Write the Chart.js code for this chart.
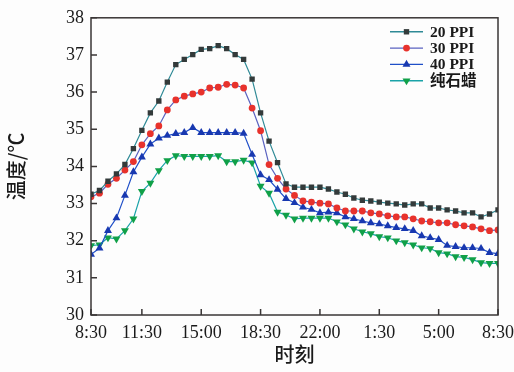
<!DOCTYPE html>
<html>
<head>
<meta charset="utf-8">
<script src="https://cdn.jsdelivr.net/npm/chart.js@4.4.0/dist/chart.umd.min.js"></script>
<style>
    html, body { margin: 0; padding: 0; background: #fdfdfd; }
    #grafico { display: block; }
</style>
</head>
<body>
<canvas id="grafico" width="514" height="372"></canvas>
<script>
// medições a cada meia hora, das 8:30 às 8:30 do dia seguinte
var seriesNames = ["20 PPI", "30 PPI", "40 PPI", "纯石蜡"];
var tickHours = [0, 3, 6.5, 10, 13.5, 17, 20.5, 24];
var tickLabels = ["8:30", "11:30", "15:00", "18:30", "22:00", "1:30", "5:00", "8:30"];
var stepHours = 0.5;

var ppi20 = [33.25, 33.35, 33.6, 33.8, 34.05, 34.48, 34.97, 35.44, 35.76, 36.27,
    36.74, 36.88, 37.01, 37.15, 37.17, 37.25, 37.17, 37.01, 36.88, 36.35,
    35.44, 34.68, 34.1, 33.53, 33.44, 33.44, 33.44, 33.44, 33.39, 33.31,
    33.25, 33.15, 33.09, 33.07, 33.04, 33.01, 32.99, 32.96, 32.99, 32.99,
    32.88, 32.88, 32.83, 32.8, 32.75, 32.75, 32.64, 32.72, 32.83];
var ppi30 = [33.18, 33.28, 33.52, 33.68, 33.9, 34.13, 34.58, 34.88, 35.09, 35.52,
    35.79, 35.89, 35.95, 36.0, 36.11, 36.13, 36.21, 36.19, 36.11, 35.57,
    34.96, 34.05, 33.68, 33.39, 33.22, 33.07, 33.04, 33.01, 32.99, 32.88,
    32.8, 32.8, 32.8, 32.75, 32.72, 32.67, 32.64, 32.64, 32.59, 32.53,
    32.51, 32.48, 32.48, 32.43, 32.4, 32.37, 32.32, 32.27, 32.29];
var ppi40 = [31.63, 31.8, 32.27, 32.61, 33.22, 33.85, 34.25, 34.6, 34.76, 34.83,
    34.88, 34.91, 35.04, 34.91, 34.91, 34.91, 34.91, 34.91, 34.89, 34.32,
    33.77, 33.64, 33.38, 33.13, 33.02, 32.9, 32.84, 32.75, 32.77, 32.75,
    32.64, 32.59, 32.53, 32.48, 32.45, 32.4, 32.35, 32.32, 32.27, 32.13,
    32.08, 32.03, 31.87, 31.84, 31.81, 31.81, 31.79, 31.68, 31.65];
var parafina = [31.87, 31.89, 32.08, 32.05, 32.27, 32.59, 33.33, 33.55, 33.89, 34.16,
    34.29, 34.27, 34.27, 34.27, 34.27, 34.29, 34.13, 34.13, 34.17, 34.1,
    33.47, 33.28, 32.77, 32.69, 32.59, 32.61, 32.61, 32.61, 32.61, 32.51,
    32.43, 32.32, 32.24, 32.19, 32.11, 32.08, 32.0, 31.95, 31.89, 31.81,
    31.79, 31.68, 31.65, 31.57, 31.55, 31.49, 31.41, 31.39, 31.39];

var corAxis = "#3a3636";
var fonteSerif = "'Liberation Serif', 'Noto Sans CJK SC', serif";

function toPoints(values) {
    return values.map(function (v, i) {
        return { x: i * stepHours, y: v };
    });
}

function serie(nome, valores, corLinha, corPonto, estilo, raio, rotacao) {
    return {
        label: nome,
        data: toPoints(valores),
        borderColor: corLinha,
        borderWidth: 1.2,
        backgroundColor: corPonto,
        pointBackgroundColor: corPonto,
        pointBorderColor: corPonto,
        pointBorderWidth: 0,
        pointStyle: estilo,
        pointRadius: raio,
        pointRotation: rotacao,
        tension: 0
    };
}

// desenha um marcador igual ao da série, usado na legenda
function desenharMarcador(ctx, estilo, x, y, r, rotacao) {
    ctx.save();
    ctx.translate(x, y);
    ctx.rotate((rotacao || 0) * Math.PI / 180);
    ctx.beginPath();
    if (estilo === "rect") {
        var s = r * Math.SQRT1_2 * 2;
        ctx.rect(-s / 2, -s / 2, s, s);
    } else if (estilo === "circle") {
        ctx.arc(0, 0, r, 0, Math.PI * 2);
    } else {
        ctx.moveTo(0, -r);
        ctx.lineTo(r * 0.866, r * 0.5);
        ctx.lineTo(-r * 0.866, r * 0.5);
        ctx.closePath();
    }
    ctx.fill();
    ctx.restore();
}

var molduraPlugin = {
    id: "moldura",
    afterDatasetsDraw: function (chart) {
        var ctx = chart.ctx;
        var a = chart.chartArea;
        ctx.save();
        ctx.strokeStyle = corAxis;
        ctx.lineWidth = 1.5;
        ctx.strokeRect(a.left, a.top, a.right - a.left, a.bottom - a.top);

        // marcas dos ticks voltadas para dentro
        var tam = 6;
        ctx.beginPath();
        chart.scales.x.ticks.forEach(function (t) {
            var px = chart.scales.x.getPixelForValue(t.value);
            ctx.moveTo(px, a.bottom);
            ctx.lineTo(px, a.bottom - tam);
        });
        chart.scales.y.ticks.forEach(function (t) {
            var py = chart.scales.y.getPixelForValue(t.value);
            ctx.moveTo(a.left, py);
            ctx.lineTo(a.left + tam, py);
        });
        ctx.stroke();
        ctx.restore();
    }
};

var legendaPlugin = {
    id: "legendaInterna",
    afterDraw: function (chart) {
        var ctx = chart.ctx;
        var a = chart.chartArea;
        var x0 = a.right - 108;
        var x1 = a.right - 75;
        var xt = a.right - 68;
        ctx.save();
        ctx.font = "bold 15.5px " + fonteSerif;
        ctx.textBaseline = "middle";
        chart.data.datasets.forEach(function (ds, k) {
            var y = a.top + 14 + k * 16.3;
            ctx.strokeStyle = ds.borderColor;
            ctx.lineWidth = 1.4;
            ctx.beginPath();
            ctx.moveTo(x0, y);
            ctx.lineTo(x1, y);
            ctx.stroke();
            ctx.fillStyle = ds.pointBackgroundColor;
            desenharMarcador(ctx, ds.pointStyle, (x0 + x1) / 2, y, ds.pointRadius, ds.pointRotation);
            ctx.fillStyle = "#1a1a1a";
            ctx.fillText(ds.label, xt, y + 1);
        });
        ctx.restore();
    }
};

var ctx = document.getElementById("grafico").getContext("2d");
var grafico = new Chart(ctx, {
    type: "line",
    data: {
        datasets: [
            serie(seriesNames[0], ppi20, "#2f8a96", "#333a3a", "rect", 3.8, 0),
            serie(seriesNames[1], ppi30, "#5a62c0", "#e8322c", "circle", 3.4, 0),
            serie(seriesNames[2], ppi40, "#1f4fc8", "#1838b0", "triangle", 4.6, 0),
            serie(seriesNames[3], parafina, "#1aa3a8", "#10a048", "triangle", 4.6, 180)
        ]
    },
    options: {
        responsive: false,
        animation: false,
        layout: { padding: { top: 15, right: 16, left: 0, bottom: 0 } },
        plugins: {
            legend: { display: false },
            tooltip: { enabled: false }
        },
        scales: {
            x: {
                type: "linear",
                min: 0,
                max: 24,
                afterBuildTicks: function (scale) {
                    scale.ticks = tickHours.map(function (h) { return { value: h }; });
                },
                afterFit: function (scale) {
                    scale.height = 57;
                    scale.paddingRight = 14;
                },
                grid: { display: false, drawTicks: false },
                border: { display: false },
                ticks: {
                    padding: 7,
                    autoSkip: false,
                    maxRotation: 0,
                    color: "#1a1a1a",
                    font: { family: fonteSerif, size: 18 },
                    callback: function (value) {
                        var i = tickHours.indexOf(value);
                        return i >= 0 ? tickLabels[i] : "";
                    }
                },
                title: {
                    display: true,
                    text: "时刻",
                    color: "#1a1a1a",
                    font: { family: "'Noto Sans CJK SC'", size: 20, weight: 500 },
                    padding: { top: 0, bottom: 6 }
                }
            },
            y: {
                min: 30,
                max: 38,
                afterFit: function (scale) { scale.width = 91; },
                grid: { display: false, drawTicks: false },
                border: { display: false },
                ticks: {
                    stepSize: 1,
                    padding: 7,
                    color: "#1a1a1a",
                    font: { family: fonteSerif, size: 18 }
                },
                title: {
                    display: true,
                    text: "温度/℃",
                    color: "#1a1a1a",
                    font: { family: "'Noto Sans CJK SC'", size: 20, weight: 500 },
                    padding: { top: 4, bottom: 0 }
                }
            }
        }
    },
    plugins: [molduraPlugin, legendaPlugin]
});
</script>
</body>
</html>
